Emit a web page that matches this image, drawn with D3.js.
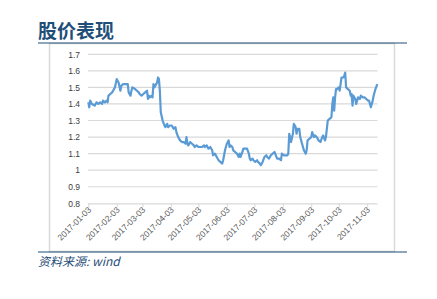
<!DOCTYPE html>
<html>
<head>
<meta charset="utf-8">
<script src="https://cdn.jsdelivr.net/npm/d3@7"></script>
<style>
  body { margin: 0; background: #fff; }
</style>
</head>
<body>
<script>
// 数据：日期与股价
var dates = [
  "2017-01-03","2017-01-04","2017-01-05","2017-01-07","2017-01-10","2017-01-12","2017-01-14","2017-01-16",
  "2017-01-18","2017-01-19","2017-01-21","2017-01-23","2017-01-24","2017-01-25","2017-01-27","2017-01-29",
  "2017-01-30","2017-02-01","2017-02-03","2017-02-05","2017-02-07","2017-02-08","2017-02-10","2017-02-12",
  "2017-02-15","2017-02-16","2017-02-18","2017-02-19","2017-02-20","2017-02-23","2017-02-25","2017-02-27",
  "2017-02-28","2017-03-02","2017-03-04","2017-03-06","2017-03-08","2017-03-09","2017-03-10","2017-03-11",
  "2017-03-13","2017-03-14","2017-03-15","2017-03-16","2017-03-18","2017-03-19","2017-03-20","2017-03-21",
  "2017-03-22","2017-03-23","2017-03-25","2017-03-27","2017-03-28","2017-03-30","2017-03-31","2017-04-02",
  "2017-04-04","2017-04-06","2017-04-08","2017-04-09","2017-04-11","2017-04-13","2017-04-15","2017-04-17",
  "2017-04-19","2017-04-20","2017-04-21","2017-04-22","2017-04-24","2017-04-26","2017-04-28","2017-04-29",
  "2017-05-01","2017-05-03","2017-05-05","2017-05-07","2017-05-09","2017-05-10","2017-05-12","2017-05-14",
  "2017-05-16","2017-05-18","2017-05-19","2017-05-21","2017-05-23","2017-05-25","2017-05-27","2017-05-29",
  "2017-05-30","2017-06-01","2017-06-03","2017-06-05","2017-06-06","2017-06-07","2017-06-09","2017-06-10",
  "2017-06-12","2017-06-14","2017-06-16","2017-06-17","2017-06-18","2017-06-20","2017-06-21","2017-06-23",
  "2017-06-25","2017-06-27","2017-06-28","2017-06-29","2017-07-01","2017-07-02","2017-07-04","2017-07-06",
  "2017-07-07","2017-07-09","2017-07-10","2017-07-12","2017-07-14","2017-07-16","2017-07-17","2017-07-19",
  "2017-07-21","2017-07-23","2017-07-25","2017-07-27","2017-07-28","2017-07-30","2017-08-01","2017-08-02",
  "2017-08-04","2017-08-06","2017-08-08","2017-08-09","2017-08-10","2017-08-11","2017-08-12","2017-08-14",
  "2017-08-15","2017-08-17","2017-08-18","2017-08-19","2017-08-21","2017-08-22","2017-08-24","2017-08-26",
  "2017-08-28","2017-08-29","2017-08-30","2017-09-01","2017-09-03","2017-09-04","2017-09-06","2017-09-07",
  "2017-09-09","2017-09-11","2017-09-13","2017-09-15","2017-09-16","2017-09-18","2017-09-19","2017-09-21",
  "2017-09-23","2017-09-25","2017-09-26","2017-09-27","2017-09-28","2017-09-29","2017-09-30","2017-10-01",
  "2017-10-03","2017-10-04","2017-10-06","2017-10-08","2017-10-09","2017-10-10","2017-10-11","2017-10-13",
  "2017-10-15","2017-10-16","2017-10-17","2017-10-18","2017-10-19","2017-10-21","2017-10-22","2017-10-24",
  "2017-10-26","2017-10-27","2017-10-29","2017-10-31","2017-11-02","2017-11-04","2017-11-05","2017-11-07",
  "2017-11-09","2017-11-10","2017-11-12","2017-11-14"
];
var prices = [
  1.41,1.38,1.42,1.40,1.39,1.41,1.40,1.41,
  1.40,1.42,1.41,1.42,1.41,1.45,1.46,1.47,
  1.48,1.50,1.55,1.53,1.48,1.51,1.52,1.52,
  1.52,1.47,1.45,1.48,1.50,1.49,1.48,1.47,
  1.46,1.45,1.46,1.47,1.48,1.43,1.45,1.44,
  1.45,1.44,1.52,1.50,1.52,1.53,1.56,1.55,
  1.48,1.35,1.30,1.27,1.26,1.28,1.26,1.27,
  1.27,1.25,1.26,1.23,1.20,1.18,1.17,1.17,
  1.16,1.20,1.16,1.15,1.17,1.16,1.15,1.14,
  1.15,1.14,1.14,1.14,1.15,1.14,1.15,1.13,
  1.14,1.12,1.09,1.10,1.08,1.06,1.05,1.04,
  1.06,1.12,1.16,1.18,1.14,1.15,1.14,1.12,
  1.11,1.10,1.08,1.10,1.08,1.11,1.13,1.13,
  1.13,1.10,1.07,1.06,1.07,1.06,1.05,1.06,
  1.05,1.04,1.03,1.05,1.08,1.09,1.08,1.07,
  1.09,1.10,1.11,1.08,1.07,1.07,1.06,1.10,
  1.09,1.09,1.09,1.10,1.22,1.20,1.17,1.22,
  1.28,1.26,1.22,1.25,1.25,1.20,1.16,1.12,
  1.10,1.12,1.18,1.19,1.20,1.23,1.20,1.21,
  1.20,1.18,1.17,1.20,1.21,1.18,1.20,1.30,
  1.31,1.32,1.40,1.44,1.36,1.44,1.49,1.49,
  1.50,1.48,1.56,1.56,1.57,1.59,1.50,1.49,
  1.48,1.45,1.46,1.39,1.45,1.43,1.40,1.44,
  1.43,1.45,1.44,1.44,1.43,1.42,1.42,1.38,
  1.42,1.45,1.49,1.52
];
var yTicks = [0.8, 0.9, 1.0, 1.1, 1.2, 1.3, 1.4, 1.5, 1.6, 1.7];
var xTicks = ["2017-01-03","2017-02-03","2017-03-03","2017-04-03","2017-05-03","2017-06-03",
  "2017-07-03","2017-08-03","2017-09-03","2017-10-03","2017-11-03"];

var parse = d3.timeParse("%Y-%m-%d");
var fmt = d3.timeFormat("%Y-%m-%d");
var data = dates.map(function (d, i) { return { date: parse(d), value: prices[i] }; });

var svg = d3.select("body").append("svg")
  .attr("width", 437)
  .attr("height", 299);

var navy = "#1f4e79";

//标题
svg.append("text")
  .attr("x", 38)
  .attr("y", 38)
  .attr("font-family", "Noto Sans CJK SC")
  .attr("font-weight", "bold")
  .attr("font-size", 19)
  .attr("fill", navy)
  .text("股价表现");

//图表外框
svg.append("rect")
  .attr("x", 49.5)
  .attr("y", 43.5)
  .attr("width", 345)
  .attr("height", 208)
  .attr("fill", "none")
  .attr("stroke", "#d9d9d9")
  .attr("stroke-width", 1.5);

//上下两条蓝线
svg.append("line")
  .attr("x1", 38).attr("x2", 407)
  .attr("y1", 43).attr("y2", 43)
  .attr("stroke", navy).attr("stroke-width", 1.2);
svg.append("line")
  .attr("x1", 38).attr("x2", 407)
  .attr("y1", 252).attr("y2", 252)
  .attr("stroke", navy).attr("stroke-width", 1.2);

//比例尺
var x = d3.scaleTime()
  .domain([parse("2017-01-03"), parse("2017-11-14")])
  .range([88.3, 377.3]);
var y = d3.scaleLinear()
  .domain([0.8, 1.7])
  .range([203.3, 54.3]);

//网格线
svg.append("g")
  .selectAll("line")
  .data(yTicks.slice(1))
  .enter().append("line")
  .attr("x1", 88).attr("x2", 377.5)
  .attr("y1", function (d) { return y(d); })
  .attr("y2", function (d) { return y(d); })
  .attr("stroke", "#d9d9d9")
  .attr("stroke-width", 1.2);

//y轴
var yAxis = svg.append("g")
  .attr("transform", "translate(88,0)")
  .call(d3.axisLeft(y).tickValues(yTicks).tickSize(0).tickPadding(8)
    .tickFormat(function (d) { return d3.format("")(+d.toFixed(1)); }));
yAxis.select(".domain").remove();
yAxis.selectAll("text")
  .attr("font-family", "Liberation Sans, Arial")
  .attr("font-size", 8.5)
  .attr("fill", "#404040");

//x轴
var xAxis = svg.append("g")
  .attr("transform", "translate(0," + y(0.8) + ")")
  .call(d3.axisBottom(x).tickValues(xTicks.map(parse)).tickSize(4).tickSizeOuter(0).tickFormat(fmt));
xAxis.select(".domain").attr("stroke", "#d9d9d9").attr("stroke-width", 1.2)
  .attr("d", "M88,0.5H377.5");
xAxis.selectAll(".tick line").attr("stroke", "#d9d9d9");
xAxis.selectAll("text")
  .attr("font-family", "Liberation Sans, Arial")
  .attr("font-size", 8.5)
  .attr("fill", "#595959")
  .attr("text-anchor", "end")
  .attr("dy", 0)
  .attr("y", 0)
  .attr("transform", "translate(3,7) rotate(-45)");

//折线
var line = d3.line()
  .x(function (d) { return x(d.date); })
  .y(function (d) { return y(d.value); });
svg.append("path")
  .datum(data)
  .attr("d", line)
  .attr("fill", "none")
  .attr("stroke", "#5b9bd5")
  .attr("stroke-width", 2.2)
  .attr("stroke-linejoin", "round");

//资料来源
svg.append("text")
  .attr("x", 38)
  .attr("y", 266)
  .attr("font-family", "Noto Sans CJK SC")
  .attr("font-style", "italic")
  .attr("font-size", 12)
  .attr("fill", navy)
  .text("资料来源: wind");
</script>
</body>
</html>
